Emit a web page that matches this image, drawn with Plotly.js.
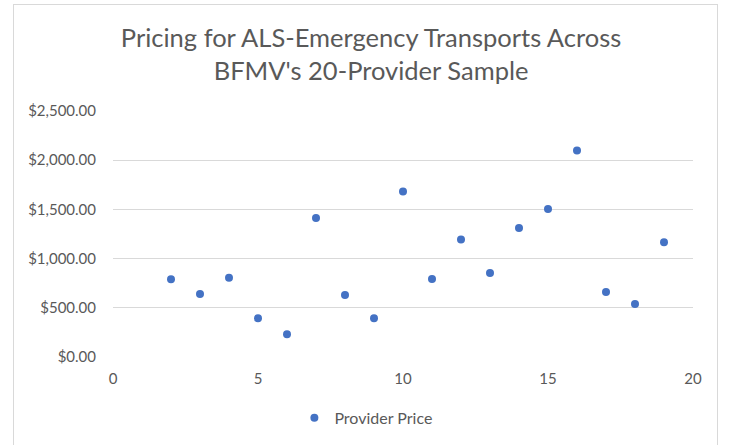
<!DOCTYPE html>
<html>
<head>
<meta charset="utf-8">
<script src="https://cdn.plot.ly/plotly-3.0.1.min.js"></script>
<style>
html,body{margin:0;padding:0;background:#fff;overflow:hidden;}
#frame{position:absolute;left:13px;top:4px;width:705px;height:460px;border:1px solid #d9d9d9;box-sizing:border-box;}
#chart{position:absolute;left:0;top:0;width:729px;height:445px;}
</style>
</head>
<body>
<div id="frame"></div>
<div id="chart"></div>
<script>
const providerIndex = [2,3,4,5,6,7,8,9,10,11,12,13,14,15,16,17,18,19];
const providerPrice = [790,640,805,393,231,1413,630,393,1681,793,1193,854,1311,1504,2098,661,539,1166];
const yTicks = [0,500,1000,1500,2000,2500];
const yTickLabels = ["$0.00","$500.00","$1,000.00","$1,500.00","$2,000.00","$2,500.00"];
const xTicks = [0,5,10,15,20];

const fontFam = "Lato, Liberation Sans, sans-serif";

const trace = {
  x: providerIndex,
  y: providerPrice,
  type: 'scatter',
  mode: 'markers',
  name: 'Provider Price',
  marker: {color: '#4472C4', size: 8}
};

const layout = {
  width: 729, height: 445,
  paper_bgcolor: 'rgba(0,0,0,0)',
  plot_bgcolor: 'rgba(0,0,0,0)',
  margin: {l: 113, r: 36, t: 111, b: 88, pad: 0, autoexpand: false},
  title: {
    text: "Pricing for ALS-Emergency Transports Across<br>BFMV's 20-Provider Sample",
    font: {family: fontFam, size: 25.5, color: '#595959'},
    x: 0.509, xanchor: 'center', xref: 'container',
    y: 0.894, yanchor: 'top'
  },
  xaxis: {
    range: [0, 20],
    tickvals: xTicks,
    ticktext: xTicks.map(String),
    showgrid: false, zeroline: false,
    showline: false, ticks: '',
    tickfont: {family: fontFam, size: 15, color: '#595959'},
    ticklabelstandoff: 11
  },
  yaxis: {
    range: [0, 2500],
    tickvals: yTicks,
    ticktext: yTickLabels,
    showgrid: true, gridcolor: '#d9d9d9', gridwidth: 1,
    zeroline: false, showline: false, ticks: '',
    tickfont: {family: fontFam, size: 15, color: '#595959'},
    ticklabelstandoff: 16
  },
  showlegend: true,
  legend: {
    orientation: 'h',
    x: 0.436, xanchor: 'center',
    yref: 'container',
    y: 0.061, yanchor: 'middle',
    font: {family: fontFam, size: 16, color: '#595959'},
    itemwidth: 30
  }
};

Plotly.newPlot('chart', [trace], layout, {displayModeBar: false, staticPlot: true});
</script>
</body>
</html>
